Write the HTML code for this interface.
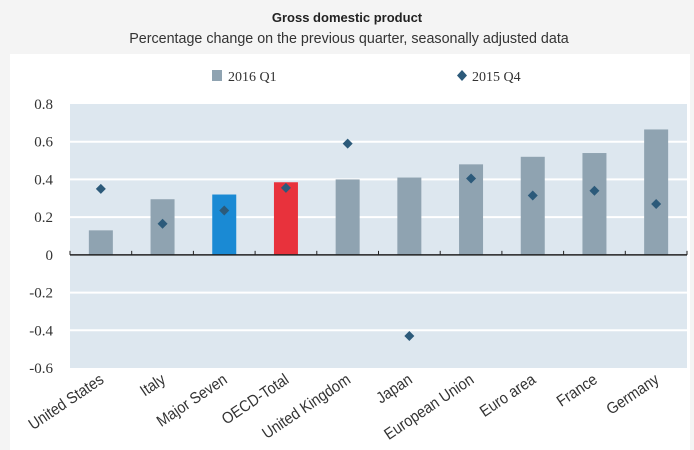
<!DOCTYPE html>
<html><head><meta charset="utf-8"><style>
body{margin:0;background:#f4f4f4;}
svg{display:block}
.serif{font-family:"Liberation Serif",serif;}
.sans{font-family:"Liberation Sans",sans-serif;}
</style></head><body>
<svg width="694" height="450" xmlns="http://www.w3.org/2000/svg">
<rect x="0" y="0" width="694" height="450" fill="#f4f4f4"/>
<rect x="10" y="54" width="680" height="396" fill="#ffffff"/>
<text x="347" y="22" text-anchor="middle" class="sans" font-size="13" font-weight="bold" fill="#222">Gross domestic product</text>
<text x="349" y="43" text-anchor="middle" class="sans" font-size="14.3" fill="#333">Percentage change on the previous quarter, seasonally adjusted data</text>
<g>
<rect x="212" y="70" width="10" height="11" fill="#8fa3b1"/>
<text x="228" y="81" class="serif" font-size="14" fill="#333">2016 Q1</text>
<path d="M462 70 L467 75.5 L462 81 L457 75.5 Z" fill="#2c5a7a"/>
<text x="472" y="81" class="serif" font-size="14" fill="#333">2015 Q4</text>
</g>
<rect x="70" y="104" width="617" height="264" fill="#dde7ef"/>
<g id="grid"></g><g id="bars"></g><g id="axis"></g><g id="marks"></g><g id="ylab"></g><g id="xlab"></g>
</svg>
<script>
const categories=["United States","Italy","Major Seven","OECD-Total","United Kingdom","Japan","European Union","Euro area","France","Germany"];
const q1_2016=[0.13,0.295,0.32,0.385,0.40,0.41,0.48,0.52,0.54,0.665];
const q4_2015=[0.35,0.165,0.235,0.355,0.59,-0.43,0.405,0.315,0.34,0.27];
const barColors=["#8fa3b1","#8fa3b1","#1a8ad4","#e8323c","#8fa3b1","#8fa3b1","#8fa3b1","#8fa3b1","#8fa3b1","#8fa3b1"];
const yTicks=[0.8,0.6,0.4,0.2,0,-0.2,-0.4,-0.6];
const yTickLabels=["0.8","0.6","0.4","0.2","0","-0.2","-0.4","-0.6"];
const NS="http://www.w3.org/2000/svg";
const L=70,R=687,T=104,B=368,ymax=0.8,ymin=-0.6;
const y=v=>T+(ymax-v)/(ymax-ymin)*(B-T);
const bw=(R-L)/categories.length;
const xc=i=>L+bw*(i+0.5);
function mk(tag,parent,attrs){const e=document.createElementNS(NS,tag);for(const k in attrs)e.setAttribute(k,attrs[k]);document.getElementById(parent).appendChild(e);return e;}
yTicks.forEach((t,i)=>{
 if(t!==0&&t!==ymax&&t!==ymin){const g=mk('line','grid',{x1:L,x2:R,y1:y(t),y2:y(t),stroke:'#fff','stroke-width':2});
 
 }
 const tx=mk('text','ylab',{x:53,y:y(t)+5,'text-anchor':'end',style:'font-family:"Liberation Serif",serif;font-size:15px',fill:'#333'});
 tx.textContent=yTickLabels[i];
 
 
});
categories.forEach((c,i)=>{
 const v=q1_2016[i];
 const b=mk('rect','bars',{x:xc(i)-12,y:Math.min(y(v),y(0)),width:24,height:Math.abs(y(v)-y(0)),fill:barColors[i]});
 
 
 const px=xc(i),py=y(q4_2015[i]);
 const m=mk('path','marks',{d:`M${px} ${py-5} L${px+5} ${py} L${px} ${py+5} L${px-5} ${py} Z`,fill:'#2c5a7a'});
 
 
 const t=mk('text','xlab',{transform:`translate(${xc(i)+4},${B+14}) rotate(-34) scale(0.9,1)`,'text-anchor':'end',style:'font-family:"Liberation Sans",sans-serif;font-size:16px',fill:'#333'});
 t.textContent=c;
 
 
});
const ax=mk('line','axis',{x1:L,x2:R,y1:y(0),y2:y(0),stroke:'#222','stroke-width':1.5});


for(let i=0;i<=categories.length;i++){
 const tk=mk('line','axis',{x1:L+bw*i,x2:L+bw*i,y1:y(0)-4,y2:y(0),stroke:'#222','stroke-width':1});
 
 
}
</script>
</body></html>
